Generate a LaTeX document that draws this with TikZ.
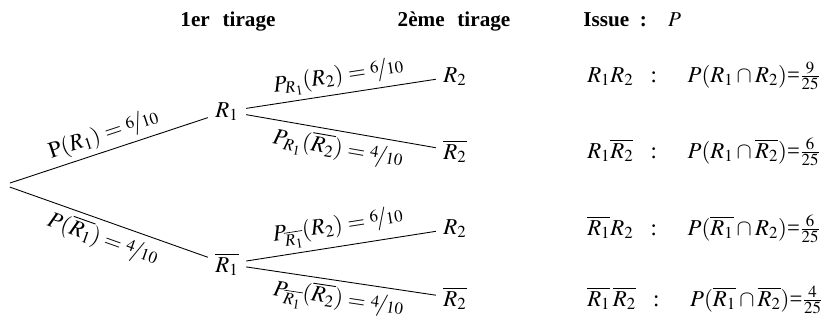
\documentclass[tikz,border=0pt]{standalone}
\usepackage{amsmath}
\usepackage{mathptmx}
\usepackage[no-math]{fontspec}
\setmainfont{Liberation Serif}
\usepackage{nicefrac}
\usetikzlibrary{positioning}

\begin{document}
\begin{tikzpicture}[x=0.68pt, y=-0.68pt, font=\fontsize{15.5}{18}\selectfont]
    \tikzstyle{point} = [inner sep=5pt, anchor=base]
    \tikzstyle{head} = [font=\fontsize{14.4}{17}\selectfont\bfseries, anchor=base]
    \tikzstyle{issue} = [anchor=base west, inner sep=0pt]
    \tikzstyle{line} = [draw, line width=0.6pt]
    \tikzstyle{prob} = [midway, sloped, inner sep=3pt]

    \useasboundingbox (0,0) rectangle (829,322);

    % column titles
    \node [head] (head1) at (228,27) {1er\hspace{.35em} tirage};
    \node [head] (head2) at (454,27) {2ème\hspace{.35em} tirage};
    \node [head, anchor=base west, inner sep=0pt] (head3) at (583,27) {Issue\hspace{.5em}:\hspace{1em}$P$};

    % tree
    \node [circle, inner sep=0pt, minimum size=8pt] (root) at (4,185) {};
    \node [point] (R1) at (227,117) {$R_1$};
    \node [point] (nR1) at (227,272) {$\overline{R_1}$};
    \node [point] (R1R2) at (455,82) {$R_2$};
    \node [point] (R1nR2) at (455,159) {$\overline{R_2}$};
    \node [point] (nR1R2) at (455,234) {$R_2$};
    \node [point] (nR1nR2) at (455,306) {$\overline{R_2}$};

    \path [line] (root) -- (R1) node [prob, above] {$\mathrm{P}(R_1) = \nicefrac{6}{10}$};
    \path [line] (root) -- (nR1) node [prob, below] {$P(\overline{R_1}) = \nicefrac{4}{10}$};
    \path [line] (R1) -- (R1R2) node [prob, above] {$P_{R_1}(R_2) = \nicefrac{6}{10}$};
    \path [line] (R1) -- (R1nR2) node [prob, below] {$P_{R_1}(\overline{R_2}) = \nicefrac{4}{10}$};
    \path [line] (nR1) -- (nR1R2) node [prob, above] {$P_{\overline{R_1}}(R_2) = \nicefrac{6}{10}$};
    \path [line] (nR1) -- (nR1nR2) node [prob, below] {$P_{\overline{R_1}}(\overline{R_2}) = \nicefrac{4}{10}$};

    % outcomes
    \node [issue] (out1) at (587,82) {$R_1R_2$\hspace{.75em}:\hspace{1.35em}$P(R_1 \cap R_2)$=$\frac{9}{25}$};
    \node [issue] (out2) at (587,158) {$R_1\overline{R_2}$\hspace{.75em}:\hspace{1.35em}$P(R_1 \cap \overline{R_2})$=$\frac{6}{25}$};
    \node [issue] (out3) at (587,235) {$\overline{R_1}R_2$\hspace{.75em}:\hspace{1.35em}$P(\overline{R_1} \cap R_2)$=$\frac{6}{25}$};
    \node [issue] (out4) at (587,306) {$\overline{R_1}\,\overline{R_2}$\hspace{.75em}:\hspace{1.35em}$P(\overline{R_1} \cap \overline{R_2})$=$\frac{4}{25}$};
\end{tikzpicture}
\end{document}
